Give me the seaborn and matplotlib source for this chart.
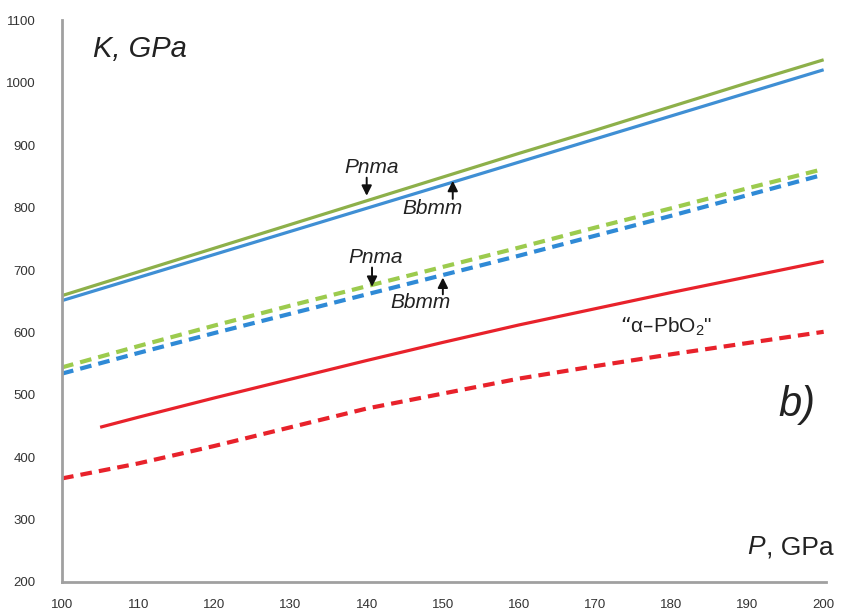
import matplotlib
matplotlib.use("Agg")
import matplotlib.pyplot as plt
import seaborn as sns
import pandas as pd

# Pressure grid, GPa
pressure = [100, 110, 120, 130, 140, 150, 160, 170, 180, 190, 200]

# Bulk modulus K (GPa) for each phase and method
pnma_solid = [659, 697, 735, 773, 811, 849, 887, 924, 962, 1000, 1037]
bbmm_solid = [651, 688, 725, 762, 799, 836, 873, 910, 947, 984, 1021]
pnma_dashed = [544, 578, 611, 643, 674, 705, 736, 768, 799, 831, 862]
bbmm_dashed = [534, 567, 599, 630, 661, 692, 723, 755, 787, 820, 853]

pressure_pbo2 = [105, 110, 120, 130, 140, 150, 160, 170, 180, 190, 200]
pbo2_solid = [448, 464, 495, 525, 555, 584, 612, 638, 664, 689, 714]
pbo2_dashed = [366, 390, 418, 448, 478, 502, 526, 546, 565, 583, 601]

x_ticks = [100, 110, 120, 130, 140, 150, 160, 170, 180, 190, 200]
y_ticks = [200, 300, 400, 500, 600, 700, 800, 900, 1000, 1100]

sns.set_theme(style="white")
plt.rcParams["font.family"] = ["Liberation Sans", "DejaVu Sans"]
plt.rcParams["mathtext.default"] = "regular"

fig = plt.figure(figsize=(8.5, 6.13), dpi=100)
ax = fig.add_axes([0.073, 0.0506, 0.896, 0.916])

green_solid = "#8db04a"
blue_solid = "#3f8fd4"
green_dash = "#9ccb4e"
blue_dash = "#2f8ad6"
red = "#e8222b"
dash = (0, (2.8, 1.7))

series = [
    (pressure, pnma_solid, green_solid, "-", 2.3),
    (pressure, bbmm_solid, blue_solid, "-", 2.3),
    (pressure, pnma_dashed, green_dash, dash, 3.0),
    (pressure, bbmm_dashed, blue_dash, dash, 3.0),
    (pressure_pbo2, pbo2_solid, red, "-", 2.3),
    (pressure, pbo2_dashed, red, dash, 3.0),
]
for xs, ys, col, ls, lw in series:
    df = pd.DataFrame({"P": xs, "K": ys})
    sns.lineplot(data=df, x="P", y="K", ax=ax, color=col, linewidth=lw, sort=False)
    line = ax.lines[-1]
    line.set_linestyle(ls)
    line.set_solid_capstyle("butt")
    line.set_dash_capstyle("butt")

ax.set_xlim(100, 200)
ax.set_ylim(200, 1100)
ax.set_xticks(x_ticks)
ax.set_yticks(y_ticks)
ax.set_xlabel("")
ax.set_ylabel("")

tick_font = dict(family=["Liberation Sans Narrow", "Liberation Sans", "DejaVu Sans"], size=9.5)
ax.set_xticklabels([str(v) for v in x_ticks], color="#333333", **tick_font)
ax.set_yticklabels([str(v) for v in y_ticks], color="#333333", **tick_font)
ax.tick_params(axis="x", length=0, pad=12)
ax.tick_params(axis="y", length=0, pad=19)

for side in ("top", "right"):
    ax.spines[side].set_visible(False)
for side in ("left", "bottom"):
    ax.spines[side].set_color("#a0a0a0")
    ax.spines[side].set_linewidth(2)
ax.spines["bottom"].set_bounds(100, 200.3)

# Axis titles inside the plot area
ax.text(104.1, 1054, "K, GPa", fontsize=21, style="italic", color="#222222",
        ha="left", va="center")
ax.text(192.3, 256, "P", fontsize=19, style="italic", color="#222222",
        ha="right", va="center")
ax.text(192.4, 256, ", GPa", fontsize=19, color="#222222", ha="left", va="center")
ax.text(196.5, 483, "b)", fontsize=30, style="italic", color="#222222",
        ha="center", va="center")

# Phase labels with arrows
arrow = dict(arrowstyle="-|>,head_length=0.5,head_width=0.25", color="#111111",
             lw=1.4, shrinkA=0, shrinkB=0)
lab = dict(fontsize=15, style="italic", color="#222222", ha="center", va="center")

ax.text(140.6, 864, "Pnma", **lab)
ax.annotate("", xy=(140.0, 819), xytext=(140.0, 848), arrowprops=arrow)
ax.text(148.7, 798, "Bbmm", **lab)
ax.annotate("", xy=(151.3, 843), xytext=(151.3, 814), arrowprops=arrow)

ax.text(141.2, 720, "Pnma", **lab)
ax.annotate("", xy=(140.7, 673), xytext=(140.7, 704), arrowprops=arrow)
ax.text(147.1, 648, "Bbmm", **lab)
ax.annotate("", xy=(150.0, 688), xytext=(150.0, 661), arrowprops=arrow)

ax.text(179.3, 610, "\u201c\u03b1\u2013PbO$_2$\"", fontsize=15, color="#222222",
        ha="center", va="center")

fig.savefig("out.png", dpi=100)
